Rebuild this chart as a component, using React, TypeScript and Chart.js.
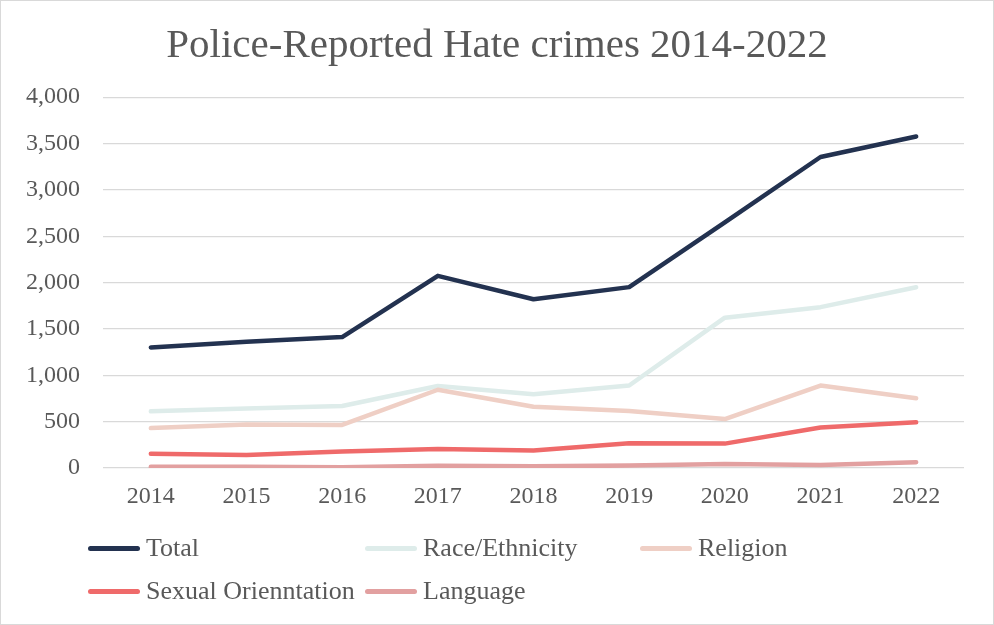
import React, { useEffect, useRef } from "react";
import { Chart, registerables } from "chart.js";

Chart.register(...registerables);

const years = ["2014", "2015", "2016", "2017", "2018", "2019", "2020", "2021", "2022"];
const totalValues = [1300, 1362, 1412, 2073, 1820, 1951, 2650, 3355, 3576];
const raceValues = [611, 641, 668, 885, 795, 890, 1622, 1735, 1950];
const religionValues = [431, 470, 465, 844, 660, 616, 528, 889, 752];
const sexualValues = [154, 141, 178, 205, 188, 268, 263, 436, 493];
const languageValues = [13, 14, 9, 25, 18, 26, 42, 32, 62];

const seriesNames = ["Total", "Race/Ethnicity", "Religion", "Sexual Orienntation", "Language"];
const seriesColors = ["#233250", "#deecea", "#efcfc5", "#ef6a6a", "#e2a0a0"];
const seriesValues = [totalValues, raceValues, religionValues, sexualValues, languageValues];

const titleText = "Police-Reported Hate crimes 2014-2022";
const FONT = "'Liberation Serif', 'Times New Roman', serif";
const TEXT = "#595959";

export default function App() {
  const ref = useRef<HTMLCanvasElement | null>(null);

  useEffect(() => {
    if (!ref.current) return;
    const chart = new Chart(ref.current, {
      type: "line",
      data: {
        labels: years,
        datasets: seriesNames.map((name, i) => ({
          label: name,
          data: seriesValues[i],
          borderColor: seriesColors[i],
          backgroundColor: seriesColors[i],
          borderWidth: 4.5,
          borderCapStyle: "round" as const,
          borderJoinStyle: "round" as const,
          pointRadius: 0,
          tension: 0,
          order: -i,
        })),
      },
      options: {
        animation: false,
        responsive: false,
        layout: { padding: { left: 0, right: 0, top: 0, bottom: 107 } },
        plugins: {
          legend: { display: false },
          tooltip: { enabled: false },
          title: {
            display: true,
            text: titleText,
            color: TEXT,
            font: { family: FONT, size: 41, weight: "normal" },
            padding: { top: 22, bottom: 26 },
          },
        },
        scales: {
          x: {
            type: "category",
            offset: true,
            grid: { display: false, drawTicks: false },
            border: { display: false },
            ticks: {
              color: TEXT,
              font: { family: FONT, size: 24 },
              padding: 14,
              maxRotation: 0,
            },
            afterFit: (s: any) => {
              s.height = 50;
            },
          },
          y: {
            min: 0,
            max: 4000,
            grid: { color: "#d9d9d9", lineWidth: 1.3, drawTicks: false },
            border: { display: false },
            ticks: {
              stepSize: 500,
              color: TEXT,
              font: { family: FONT, size: 24 },
              padding: 23,
              callback: (v: any) => Number(v).toLocaleString("en-US"),
            },
            afterFit: (s: any) => {
              s.width = 103;
            },
          },
          yRight: {
            position: "right",
            display: true,
            min: 0,
            max: 4000,
            grid: { display: false, drawTicks: false },
            border: { display: false },
            ticks: { display: false },
            afterFit: (s: any) => {
              s.width = 30;
            },
          },
        },
      },
    });
    return () => chart.destroy();
  }, []);

  const cols = [88, 365, 640];
  const rows = [548, 591];

  return (
    <div
      style={{
        position: "absolute",
        left: 0,
        top: 0,
        width: 994,
        height: 625,
        background: "#fff",
        overflow: "hidden",
      }}
    >
      <canvas ref={ref} width={994} height={625} style={{ position: "absolute", left: 0, top: 0 }} />
      {seriesNames.map((name, i) => {
        const x = cols[i % 3];
        const y = rows[Math.floor(i / 3)];
        return (
          <div
            key={name}
            style={{
              position: "absolute",
              left: x,
              top: y - 16,
              height: 32,
              display: "flex",
              alignItems: "center",
              whiteSpace: "nowrap",
            }}
          >
            <span
              style={{
                display: "inline-block",
                width: 52,
                height: 5,
                borderRadius: 3,
                background: seriesColors[i],
                marginRight: 6,
              }}
            />
            <span style={{ fontFamily: FONT, fontSize: 26, color: TEXT, lineHeight: "32px" }}>{name}</span>
          </div>
        );
      })}
      <div
        style={{
          position: "absolute",
          left: 0,
          top: 0,
          width: 994,
          height: 625,
          boxSizing: "border-box",
          border: "1.5px solid #d9d9d9",
          pointerEvents: "none",
        }}
      />
    </div>
  );
}
